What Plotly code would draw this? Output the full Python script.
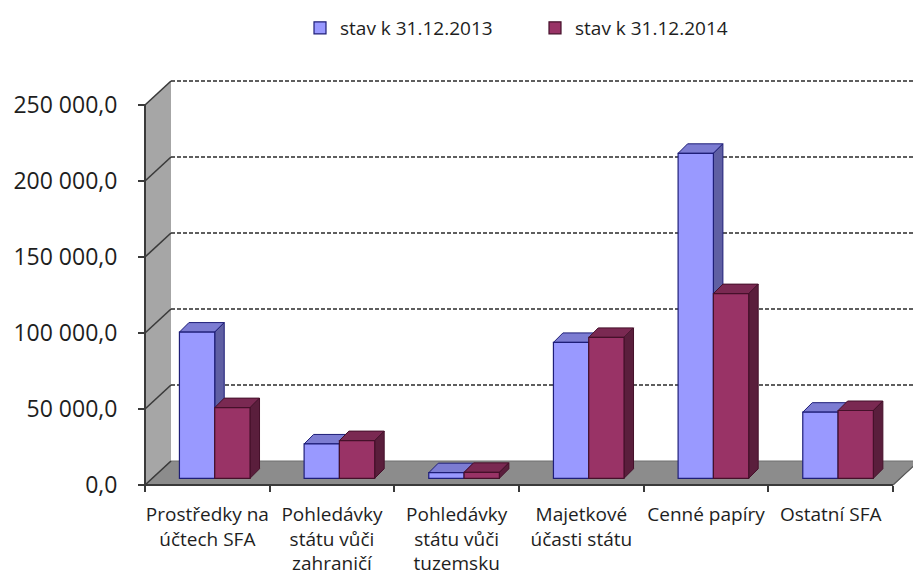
import plotly.graph_objects as go

# ---------------- data ----------------
categories = [
    "Prostředky na<br>účtech SFA",
    "Pohledávky<br>státu vůči<br>zahraničí",
    "Pohledávky<br>státu vůči<br>tuzemsku",
    "Majetkové<br>účasti státu",
    "Cenné papíry",
    "Ostatní SFA",
]
series_names = ["stav k 31.12.2013", "stav k 31.12.2014"]
values_2013 = [96200, 22600, 3700, 89400, 213800, 43500]
values_2014 = [46500, 24800, 3900, 92700, 121500, 44600]
y_tickvals = [0, 50000, 100000, 150000, 200000, 250000]
y_ticktext = ["0,0", "50 000,0", "100 000,0", "150 000,0", "200 000,0", "250 000,0"]

# ---------------- geometry (pixels -> axis units) ----------------
W, H = 913, 581
X_LEFT_PX, X_RIGHT_PX = 145, 893          # front edge of category axis
Y0_PX, YTOP_PX = 485, 105                  # pixel rows of 0 and 250 000 (front plane)
n = len(categories)
PXU_X = (X_RIGHT_PX - X_LEFT_PX) / n
PXU_Y = (Y0_PX - YTOP_PX) / y_tickvals[-1]

x_range = [-0.5 - X_LEFT_PX / PXU_X, -0.5 + (W - X_LEFT_PX) / PXU_X]
y_range = [-(H - Y0_PX) / PXU_Y, Y0_PX / PXU_Y]

# back wall depth offset
WDX = 26 / PXU_X
WDY = 24 / PXU_Y
# bar plane offset (bars stand part way into the depth)
BAR_SHIFT_X = 7.4 / PXU_X
BAR_SHIFT_Y = 6.7 / PXU_Y
x2_range = [x_range[0] - BAR_SHIFT_X, x_range[1] - BAR_SHIFT_X]
y2_range = [y_range[0] - BAR_SHIFT_Y, y_range[1] - BAR_SHIFT_Y]
# bar width and bar depth
BAR_W = 35.3 / PXU_X
BDX = 9.5 / PXU_X
BDY = 9.5 / PXU_Y

colors = {
    "s0": dict(front="#9999FF", top="#7C7CD2", side="#5F5FA3", edge="#1E1E78"),
    "s1": dict(front="#993366", top="#7A2952", side="#5A1E3C", edge="#45102A"),
}
WALL = "#A6A6A6"
FLOOR = "#8C8C8C"
EDGE = "#3A3A3A"
FONT = "Open Sans"
TXT = "#1E1E1E"


def path(pts):
    return "M " + " L ".join(f"{x},{y}" for x, y in pts) + " Z"


shapes = []
xl = -0.5
xr = n - 0.5
ymax = y_tickvals[-1]
# left wall
shapes.append(dict(type="path", xref="x", yref="y", layer="below",
                   path=path([(xl, 0), (xl, ymax), (xl + WDX, ymax + WDY), (xl + WDX, WDY)]),
                   fillcolor=WALL, line=dict(width=0)))
# floor
shapes.append(dict(type="path", xref="x", yref="y", layer="below",
                   path=path([(xl, 0), (xr, 0), (xr + WDX, WDY), (xl + WDX, WDY)]),
                   fillcolor=FLOOR, line=dict(color="#6E6E6E", width=1)))
# wall diagonals + back dashed gridlines
for v in y_tickvals:
    shapes.append(dict(type="line", xref="x", yref="y", layer="below",
                       x0=xl, y0=v, x1=xl + WDX, y1=v + WDY,
                       line=dict(color=EDGE, width=1.6)))
    if v > 0:
        shapes.append(dict(type="line", xref="x", yref="y", layer="below",
                           x0=xl + WDX, y0=v + WDY, x1=x_range[1], y1=v + WDY,
                           line=dict(color="#2A2A2A", width=1.6, dash="4px,2px")))
# front axis lines
shapes.append(dict(type="line", xref="x", yref="y", layer="below",
                   x0=xl, y0=0, x1=xl, y1=ymax, line=dict(color=EDGE, width=2)))
shapes.append(dict(type="line", xref="x", yref="y", layer="below",
                   x0=xl, y0=0, x1=xr, y1=0, line=dict(color=EDGE, width=2)))
shapes.append(dict(type="line", xref="x", yref="y", layer="below",
                   x0=xr, y0=0, x1=xr + WDX, y1=WDY, line=dict(color="#5A5A5A", width=1.2)))

# 3D faces of the bars (top and right side), computed from the data
for si, (vals, off) in enumerate([(values_2013, -BAR_W), (values_2014, 0.0)]):
    c = colors[f"s{si}"]
    for i, v in enumerate(vals):
        x0 = i + off
        x1 = x0 + BAR_W
        shapes.append(dict(type="path", xref="x2", yref="y2", layer="below",
                           path=path([(x0, v), (x1, v), (x1 + BDX, v + BDY), (x0 + BDX, v + BDY)]),
                           fillcolor=c["top"], line=dict(color=c["edge"], width=1)))
        shapes.append(dict(type="path", xref="x2", yref="y2", layer="below",
                           path=path([(x1, 0), (x1, v), (x1 + BDX, v + BDY), (x1 + BDX, BDY)]),
                           fillcolor=c["side"], line=dict(color=c["edge"], width=1)))

fig = go.Figure()
# anchor trace for the front-plane axes
fig.add_trace(go.Scatter(x=[], y=[], xaxis="x", yaxis="y", showlegend=False, hoverinfo="skip"))
for si, (name, vals, off) in enumerate([(series_names[0], values_2013, -BAR_W),
                                        (series_names[1], values_2014, 0.0)]):
    c = colors[f"s{si}"]
    fig.add_trace(go.Bar(
        name=name, x=list(range(n)), y=vals, width=BAR_W, offset=off,
        xaxis="x2", yaxis="y2",
        marker=dict(color=c["front"], line=dict(color=c["edge"], width=1.2)),
    ))

pos_x_axis = (H - Y0_PX) / H
pos_y_axis = X_LEFT_PX / W

fig.update_layout(
    width=W, height=H,
    margin=dict(l=0, r=0, t=0, b=0),
    paper_bgcolor="white", plot_bgcolor="rgba(0,0,0,0)",
    font=dict(family=FONT, color=TXT, size=18),
    barmode="overlay",
    shapes=shapes,
    showlegend=True,
    legend=dict(orientation="h", x=300 / W, xanchor="left", y=1 - 28 / H, yanchor="middle",
                font=dict(size=19, family=FONT, color=TXT), bgcolor="rgba(0,0,0,0)",
                itemwidth=30, traceorder="normal", entrywidth=190, entrywidthmode="pixels"),
    xaxis=dict(range=x_range, anchor="free", position=pos_x_axis, domain=[0, 1],
               tickmode="array", tickvals=list(range(n)), ticktext=categories,
               ticks="", showline=False, showgrid=False, zeroline=False,
               ticklabelstandoff=16, tickfont=dict(size=19, family=FONT, color=TXT),
               minor=dict(tickmode="array", tickvals=[k - 0.5 for k in range(n + 1)],
                          ticks="outside", ticklen=6, tickcolor=EDGE, tickwidth=1.5,
                          showgrid=False),
               fixedrange=True, automargin=False),
    yaxis=dict(range=y_range, anchor="free", position=pos_y_axis, domain=[0, 1],
               tickmode="array", tickvals=y_tickvals, ticktext=y_ticktext,
               ticks="outside", ticklen=7, tickcolor=EDGE, tickwidth=1.5,
               showline=False, showgrid=False, zeroline=False,
               ticklabelstandoff=16, tickfont=dict(size=23, family=FONT, color=TXT),
               fixedrange=True, automargin=False),
    xaxis2=dict(range=x2_range, overlaying="x", visible=False, fixedrange=True),
    yaxis2=dict(range=y2_range, overlaying="y", visible=False, fixedrange=True),
)

fig.write_html("out.html", config={"displayModeBar": False},
               post_script="document.body.style.margin='0';")
